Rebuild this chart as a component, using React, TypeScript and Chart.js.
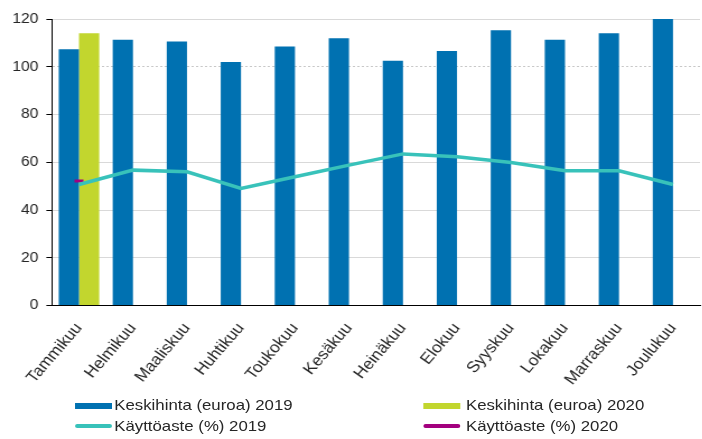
import React, { useEffect, useRef } from "react";
import { Chart, registerables } from "chart.js";

Chart.register(...registerables);

const months = [
  "Tammikuu", "Helmikuu", "Maaliskuu", "Huhtikuu", "Toukokuu", "Kesäkuu",
  "Heinäkuu", "Elokuu", "Syyskuu", "Lokakuu", "Marraskuu", "Joulukuu",
];
const price2019 = [107.3, 111.3, 110.6, 102.0, 108.5, 111.9, 102.5, 106.6, 115.3, 111.3, 114.0, 120.0];
const price2020 = [114.0, null, null, null, null, null, null, null, null, null, null, null];
const occ2019 = [50.7, 56.7, 56.0, 49.0, 53.9, 58.8, 63.5, 62.3, 59.9, 56.4, 56.4, 50.7];
const occ2020 = [52.1, null, null, null, null, null, null, null, null, null, null, null];
const yTicks = [0, 20, 40, 60, 80, 100, 120];

const labelPrice2019 = "Keskihinta (euroa) 2019";
const labelPrice2020 = "Keskihinta (euroa) 2020";
const labelOcc2019 = "Käyttöaste (%) 2019";
const labelOcc2020 = "Käyttöaste (%) 2020";

const BLUE = "#0071b1";
const GREEN = "#c2d62e";
const TEAL = "#38c2ba";
const MAGENTA = "#a3007e";

const SX = 1.12;
const CW = 632;
const CH = 439;
const FONT = "'Liberation Sans', Arial, sans-serif";

export default function App() {
  const ref = useRef<HTMLCanvasElement | null>(null);

  useEffect(() => {
    if (!ref.current) return;
    const chart = new Chart(ref.current, {
      type: "bar",
      data: {
        labels: months,
        datasets: [
          {
            type: "line",
            label: labelOcc2019,
            data: occ2019,
            borderColor: TEAL,
            backgroundColor: TEAL,
            borderWidth: 3.5,
            pointRadius: 0,
            tension: 0,
            order: 0,
          },
          {
            type: "line",
            label: labelOcc2020,
            data: occ2020,
            borderColor: MAGENTA,
            backgroundColor: MAGENTA,
            borderWidth: 3,
            pointStyle: "line",
            pointRadius: 4,
            pointBorderWidth: 3,
            pointBorderColor: MAGENTA,
            order: 0,
          },
          {
            type: "bar",
            label: labelPrice2019,
            data: price2019,
            backgroundColor: BLUE,
            categoryPercentage: 0.75,
            barPercentage: 1,
            order: 1,
          },
          {
            type: "bar",
            label: labelPrice2020,
            data: price2020,
            backgroundColor: GREEN,
            categoryPercentage: 0.75,
            barPercentage: 1,
            order: 1,
          },
        ] as any,
      },
      options: {
        responsive: false,
        animation: false,
        devicePixelRatio: 1,
        layout: { padding: { top: 19, right: 2.5, bottom: 0, left: 0 } },
        plugins: {
          legend: { display: false },
          tooltip: { enabled: false },
        },
        scales: {
          x: {
            grid: { display: false },
            border: { display: true, color: "#000000", width: 1 },
            ticks: {
              maxRotation: 52,
              minRotation: 52,
              padding: 6,
              color: "#262626",
              font: { family: FONT, size: 15.5 },
              autoSkip: false,
            },
            afterFit: (scale: any) => {
              scale.height = CH - 305.5;
            },
          },
          y: {
            min: 0,
            max: 120,
            afterBuildTicks: (scale: any) => {
              scale.ticks = yTicks.map((v) => ({ value: v }));
            },
            grid: {
              color: (ctx: any) => (ctx.tick && ctx.tick.value === 100 ? "#c8c8c8" : "#d9d9d9"),
              lineWidth: 1,
              drawTicks: true,
              tickLength: 5,
              tickColor: "#000000",
            },
            border: {
              display: true,
              color: "#000000",
              width: 1,
              dash: (ctx: any) => (ctx.tick && ctx.tick.value === 100 ? [2, 2] : []),
            } as any,
            ticks: {
              padding: 7,
              color: "#262626",
              font: { family: FONT, size: 14 },
            },
            afterFit: (scale: any) => {
              scale.width = 46.4;
            },
          },
        },
      } as any,
    });
    return () => chart.destroy();
  }, []);

  const legendText: React.CSSProperties = {
    position: "absolute",
    fontFamily: FONT,
    fontSize: 15,
    color: "#262626",
    lineHeight: "16px",
    whiteSpace: "nowrap",
  };
  const sw = (left: number, top: number, color: string, h: number, round: boolean): React.CSSProperties => ({
    position: "absolute",
    left,
    top: top - h / 2,
    width: 33,
    height: h,
    background: color,
    borderRadius: round ? h / 2 : 0,
  });

  return (
    <div
      style={{
        position: "fixed",
        left: 0,
        top: 0,
        width: 702,
        height: 439,
        overflow: "hidden",
        background: "#ffffff",
      }}
    >
      <div
        style={{
          position: "relative",
          width: CW,
          height: CH,
          transform: `scaleX(${SX})`,
          transformOrigin: "0 0",
        }}
      >
        <canvas ref={ref} width={CW} height={CH} style={{ display: "block" }} />
        <div style={sw(66.5, 405.5, BLUE, 6, false)} />
        <div style={{ ...legendText, left: 102, top: 397 }}>{labelPrice2019}</div>
        <div style={sw(66.5, 426, TEAL, 4, true)} />
        <div style={{ ...legendText, left: 102, top: 418 }}>{labelOcc2019}</div>
        <div style={sw(378, 405.5, GREEN, 6, false)} />
        <div style={{ ...legendText, left: 416, top: 397 }}>{labelPrice2020}</div>
        <div style={sw(378, 426, MAGENTA, 4, true)} />
        <div style={{ ...legendText, left: 416, top: 418 }}>{labelOcc2020}</div>
      </div>
    </div>
  );
}
